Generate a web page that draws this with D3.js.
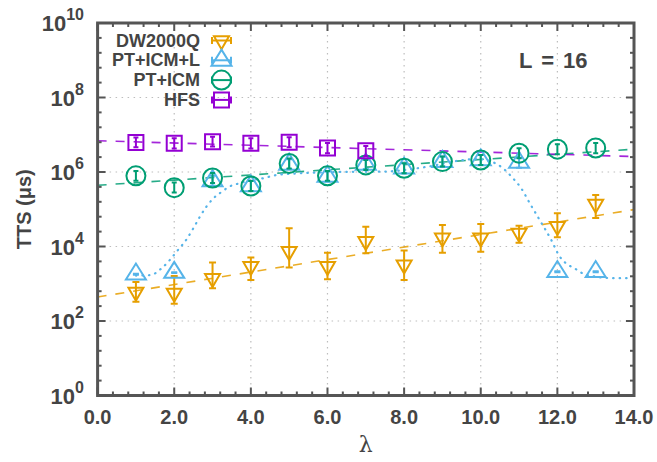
<!DOCTYPE html>
<html>
<head>
<meta charset="utf-8">
<script src="https://cdn.jsdelivr.net/npm/d3@7"></script>
<style>
  html, body { margin: 0; padding: 0; background: #fff; }
  svg text { font-family: "Liberation Sans", Arial, Helvetica, sans-serif; }
</style>
</head>
<body>
<svg id="chart" width="657" height="462"></svg>
<script>
// ---------------- data ----------------
const lambdas = [1, 2, 3, 4, 5, 6, 7, 8, 9, 10, 11, 12, 13];
const hfsLambdas = [1, 2, 3, 4, 5, 6, 7];

const dwValues = [600, 560, 1400, 2950, 7400, 2950, 13800, 3200, 17000, 17000, 23000, 35000, 138000];
const dwLo     = [330, 290, 760, 1260, 2750, 1320, 6600, 1260, 6800, 7200, 12600, 17800, 58000];
const dwHi     = [1120, 1620, 3700, 5100, 31000, 6800, 34000, 7800, 38000, 40000, 36000, 78000, 240000];

const ptlValues = [1.8e3, 2.0e3, 5.8e5, 4.2e5, 1.6e6, 7.6e5, 1.6e6, 1.26e6, 1.9e6, 2.1e6, 1.8e6, 2.1e3, 2.1e3];
const ptlLo     = [1.75e3, 1.95e3, 4.3e5, 3.1e5, 1.2e6, 5.6e5, 1.2e6, 9.3e5, 1.4e6, 1.55e6, 1.3e6, 2.05e3, 2.05e3];
const ptlHi     = [1.85e3, 2.05e3, 7.9e5, 5.7e5, 2.2e6, 1.03e6, 2.2e6, 1.71e6, 2.6e6, 2.85e6, 2.4e6, 2.15e3, 2.15e3];

const ptValues = [7.9e5, 3.8e5, 6.9e5, 4.2e5, 1.7e6, 7.9e5, 1.55e6, 1.26e6, 1.9e6, 2.1e6, 3.2e6, 4.1e6, 4.4e6];
const ptLo     = [5.8e5, 2.8e5, 5.1e5, 3.1e5, 1.25e6, 5.8e5, 1.14e6, 9.3e5, 1.4e6, 1.55e6, 2.35e6, 3.0e6, 3.2e6];
const ptHi     = [1.07e6, 5.2e5, 9.4e5, 5.7e5, 2.3e6, 1.07e6, 2.1e6, 1.71e6, 2.6e6, 2.85e6, 4.35e6, 5.6e6, 6.0e6];

const hfsValues = [6.2e6, 5.9e6, 6.5e6, 5.9e6, 6.3e6, 4.4e6, 3.7e6];
const hfsLo     = [4.6e6, 4.3e6, 4.8e6, 4.3e6, 4.6e6, 3.2e6, 2.7e6];
const hfsHi     = [8.4e6, 8.0e6, 8.8e6, 8.0e6, 8.6e6, 6.0e6, 5.0e6];

// fitted trend lines (end points)
const fitX      = [0, 14];
const dwFit     = [440, 9.8e4];
const ptFit     = [4.4e5, 4.1e6];
const hfsFit    = [6.9e6, 2.6e6];

// smooth curve through PT+ICM+L
const ptlCurveX = [1.0, 1.37, 1.67, 1.89, 2.10, 2.32, 2.50, 2.67, 2.84, 3.02, 3.24, 3.45, 3.71, 3.97, 4.32, 4.67, 5.02, 5.54, 6.2, 7.4, 8.6, 9.4, 9.9, 10.28, 10.58, 10.84, 11.06, 11.28, 11.54, 11.84, 12.06, 12.23, 12.45, 12.66, 13.01, 13.45, 13.88];
const ptlCurveY = [1.66e3, 1.7e3, 2.6e3, 4.4e3, 8.1e3, 1.55e4, 3.1e4, 6.3e4, 1.17e5, 1.95e5, 2.95e5, 4.1e5, 5.0e5, 5.9e5, 6.8e5, 8.3e5, 8.9e5, 9.5e5, 1.0e6, 1.02e6, 1.38e6, 2.0e6, 2.24e6, 1.9e6, 1.26e6, 6.8e5, 3.6e5, 1.45e5, 5.1e4, 1.5e4, 5.4e3, 3.5e3, 2.6e3, 1.9e3, 1.55e3, 1.41e3, 1.41e3];

const seriesNames = ["DW2000Q", "PT+ICM+L", "PT+ICM", "HFS"];
const xTickValues = [0, 2, 4, 6, 8, 10, 12, 14];
const yTickExps   = [0, 2, 4, 6, 8, 10];

// ---------------- layout ----------------
const svg = d3.select("#chart");
const L = 97.6, R = 634, T = 23, B = 395.5;
const x = d3.scaleLinear().domain([0, 14]).range([L, R]);
const y = d3.scaleLog().domain([1, 1e10]).range([B, T]);

const C = { dw: "#E69F00", ptl: "#56B4E9", pt: "#009E73", hfs: "#9400D3" };
const axisColor = "#555555";
const textColor = "#444444";

// grid
const grid = svg.append("g");
xTickValues.filter(v => v > 0 && v < 14).forEach(v => {
  grid.append("line").attr("x1", x(v)).attr("x2", x(v)).attr("y1", T).attr("y2", B)
    .attr("stroke", "#bdbdbd").attr("stroke-width", 1.2).attr("stroke-dasharray", "1.5,4.5");
});
yTickExps.filter(e => e > 0 && e < 10).forEach(e => {
  grid.append("line").attr("x1", L).attr("x2", R).attr("y1", y(Math.pow(10, e))).attr("y2", y(Math.pow(10, e)))
    .attr("stroke", "#bdbdbd").attr("stroke-width", 1.2).attr("stroke-dasharray", "1.5,4.5");
});

const plot = svg.append("g");
svg.append("clipPath").attr("id", "clip").append("rect")
  .attr("x", L).attr("y", T).attr("width", R - L).attr("height", B - T);
plot.attr("clip-path", "url(#clip)");

// fit lines
const fitLine = d3.line().x(d => x(d[0])).y(d => y(d[1]));
[[dwFit, C.dw], [ptFit, C.pt], [hfsFit, C.hfs]].forEach(([f, col]) => {
  plot.append("path").datum(fitX.map((v, i) => [v, f[i]]))
    .attr("d", fitLine).attr("fill", "none").attr("stroke", col)
    .attr("stroke-width", 1.6).attr("stroke-dasharray", "9,9").attr("opacity", 0.85);
});

// PT+ICM+L smooth curve
plot.append("path").datum(ptlCurveX.map((v, i) => [v, ptlCurveY[i]]))
  .attr("d", d3.line().x(d => x(d[0])).y(d => y(d[1])).curve(d3.curveMonotoneX))
  .attr("fill", "none").attr("stroke", C.ptl).attr("stroke-width", 2.2)
  .attr("stroke-linecap", "round").attr("stroke-dasharray", "0.5,6");

// symbol paths
function symPath(type, cx, cy) {
  if (type === "down") {
    const w = 15, h = 13;
    return `M${cx - w/2},${cy - h/3}L${cx + w/2},${cy - h/3}L${cx},${cy + 2*h/3}Z`;
  }
  if (type === "up") {
    const w = 20, h = 16;
    return `M${cx - w/2},${cy + h/3}L${cx + w/2},${cy + h/3}L${cx},${cy - 2*h/3}Z`;
  }
  if (type === "square") {
    const s = 15;
    return `M${cx - s/2},${cy - s/2}h${s}v${s}h${-s}Z`;
  }
  const r = 9.5;
  return `M${cx - r},${cy}a${r},${r} 0 1,0 ${2*r},0a${r},${r} 0 1,0 ${-2*r},0Z`;
}

function drawSeries(xs, vals, lo, hi, col, type, cap) {
  const g = plot.append("g");
  xs.forEach((xv, i) => {
    const cx = x(xv);
    const y0 = y(lo[i]), y1 = y(hi[i]);
    g.append("line").attr("x1", cx).attr("x2", cx).attr("y1", y0).attr("y2", y1)
      .attr("stroke", col).attr("stroke-width", 2);
    [y0, y1].forEach(yy => g.append("line").attr("x1", cx - cap/2).attr("x2", cx + cap/2)
      .attr("y1", yy).attr("y2", yy).attr("stroke", col).attr("stroke-width", 2));
    g.append("path").attr("d", symPath(type, cx, y(vals[i])))
      .attr("fill", "none").attr("stroke", col).attr("stroke-width", 2);
  });
}

drawSeries(lambdas, dwValues, dwLo, dwHi, C.dw, "down", 7);
drawSeries(lambdas, ptlValues, ptlLo, ptlHi, C.ptl, "up", 6);
drawSeries(lambdas, ptValues, ptLo, ptHi, C.pt, "circle", 5);
drawSeries(hfsLambdas, hfsValues, hfsLo, hfsHi, C.hfs, "square", 5);

// frame
const axes = svg.append("g");
axes.append("rect").attr("x", L).attr("y", T).attr("width", R - L).attr("height", B - T)
  .attr("fill", "none").attr("stroke", axisColor).attr("stroke-width", 3);

// ticks (inward, all four sides)
const xMinor = d3.range(0, 14.0001, 0.4).filter(v => Math.abs(v / 2 - Math.round(v / 2)) > 1e-6);
function tick(x1, y1, x2, y2) {
  axes.append("line").attr("x1", x1).attr("y1", y1).attr("x2", x2).attr("y2", y2)
    .attr("stroke", axisColor).attr("stroke-width", 2);
}
xTickValues.forEach(v => { tick(x(v), B, x(v), B - 8); tick(x(v), T, x(v), T + 8); });
xMinor.forEach(v => { tick(x(v), B, x(v), B - 4); tick(x(v), T, x(v), T + 4); });
d3.range(0, 10.0001, 0.4).forEach(e => {
  const isMajor = Math.abs(e / 2 - Math.round(e / 2)) < 1e-6;
  const len = isMajor ? 8 : 4;
  const yy = y(Math.pow(10, e));
  tick(L, yy, L + len, yy); tick(R, yy, R - len, yy);
});

// x tick labels
xTickValues.forEach(v => {
  svg.append("text").attr("x", x(v)).attr("y", B + 28).attr("text-anchor", "middle")
    .attr("font-size", 20).attr("font-weight", "bold").attr("fill", textColor)
    .text(d3.format(".1f")(v));
});

// y tick labels
yTickExps.forEach(e => {
  const t = svg.append("text").attr("x", 84).attr("y", y(Math.pow(10, e)) + 8).attr("text-anchor", "end")
    .attr("font-size", 22).attr("font-weight", "bold").attr("fill", textColor);
  t.append("tspan").text("10");
  t.append("tspan").attr("dy", -11).attr("font-size", 16).text(String(e));
});

// axis titles
svg.append("text").attr("transform", `translate(31,${(T + B) / 2}) rotate(-90)`)
  .attr("text-anchor", "middle").attr("font-size", 20).attr("font-weight", "bold").attr("fill", textColor)
  .text("TTS (μs)");
svg.append("text").attr("x", (L + R) / 2).attr("y", 452).attr("text-anchor", "middle")
  .attr("font-size", 22).attr("fill", textColor).style("font-family", "'DejaVu Serif', serif")
  .text("λ");

// annotation
svg.append("text").attr("x", 519).attr("y", 68).attr("font-size", 22).attr("font-weight", "bold")
  .attr("word-spacing", 3).attr("fill", textColor).text("L = 16");

// legend
const legendRows = [
  [seriesNames[0], C.dw, "down"],
  [seriesNames[1], C.ptl, "up"],
  [seriesNames[2], C.pt, "circle"],
  [seriesNames[3], C.hfs, "square"]
];
legendRows.forEach(([name, col, type], i) => {
  const cy = 40.5 + i * 19.8;
  svg.append("text").attr("x", 200).attr("y", cy + 6).attr("text-anchor", "end")
    .attr("font-size", 18).attr("font-weight", "bold").attr("fill", textColor).text(name);
  const x0 = 212, x1 = 231, cx = 221.5;
  const g = svg.append("g").attr("stroke", col).attr("stroke-width", 2).attr("fill", "none");
  g.append("line").attr("x1", x0).attr("x2", x1).attr("y1", cy).attr("y2", cy);
  g.append("line").attr("x1", x0).attr("x2", x0).attr("y1", cy - 3.5).attr("y2", cy + 3.5);
  g.append("line").attr("x1", x1).attr("x2", x1).attr("y1", cy - 3.5).attr("y2", cy + 3.5);
  g.append("path").attr("d", symPath(type, cx, cy));
});
</script>
</body>
</html>
